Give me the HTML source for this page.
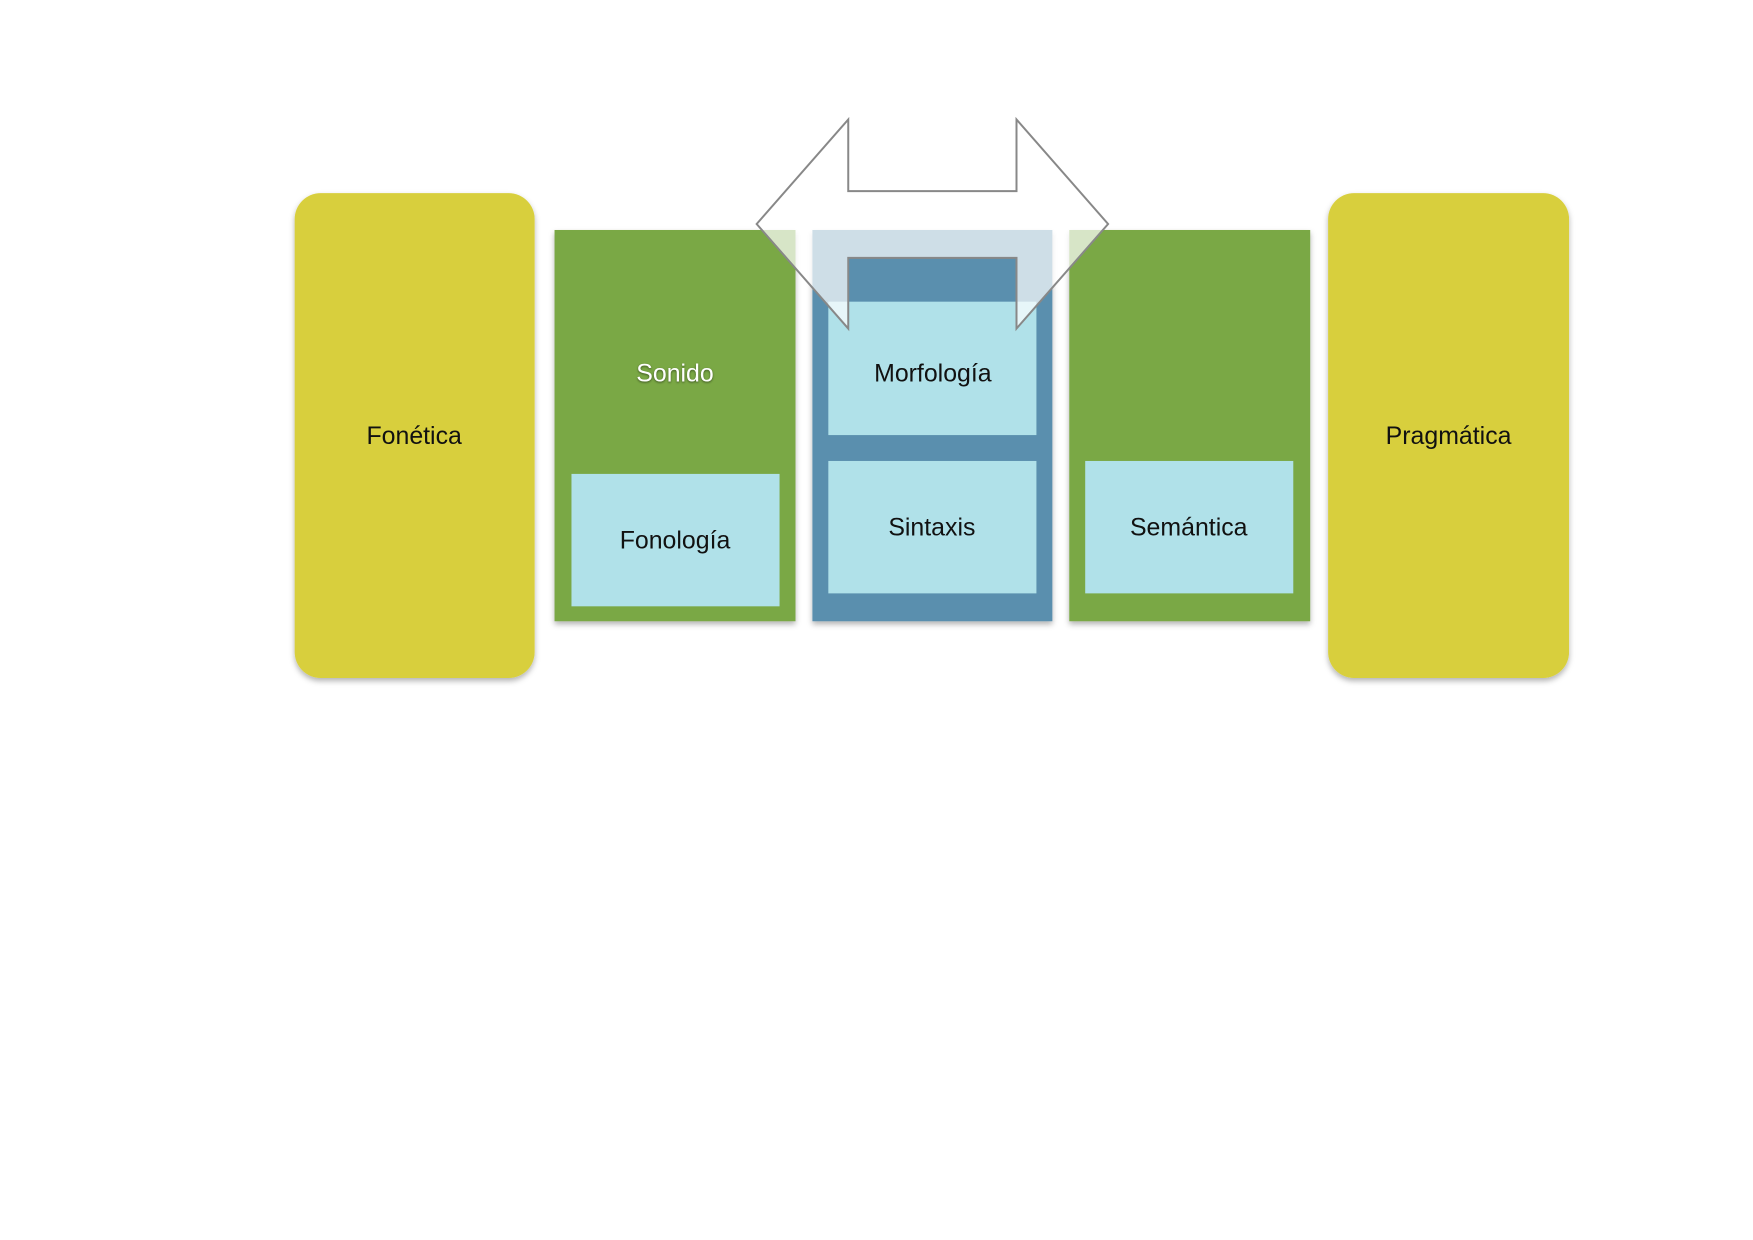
<!DOCTYPE html>
<html><head><meta charset="utf-8"><style>
html,body{margin:0;padding:0;background:#fff;width:1753px;height:1240px;overflow:hidden}
</style></head><body>
<svg width="1753" height="1240" xmlns="http://www.w3.org/2000/svg" font-family="Liberation Sans, sans-serif">
<defs>
<filter id="sh" x="-10%" y="-10%" width="120%" height="120%"><feDropShadow dx="0" dy="3" stdDeviation="3" flood-color="#000" flood-opacity="0.3"/></filter>
</defs>
<g transform="matrix(0.9956 0 0 0.9956 -1 0)">
<rect x="297" y="194" width="241" height="487" rx="26" fill="#d8cf3c" filter="url(#sh)"/>
<rect x="1335" y="194" width="242" height="487" rx="26" fill="#d8cf3c" filter="url(#sh)"/>
<rect x="558" y="231" width="242" height="393" fill="#7aa845" filter="url(#sh)"/>
<rect x="817" y="231" width="241" height="393" fill="#5a8fae" filter="url(#sh)"/>
<rect x="1075" y="231" width="242" height="393" fill="#7aa845" filter="url(#sh)"/>
<rect x="575" y="476" width="209" height="133" fill="#b0e1e9"/>
<rect x="833" y="303" width="209" height="134" fill="#b0e1e9"/>
<rect x="833" y="463" width="209" height="133" fill="#b0e1e9"/>
<rect x="1091" y="463" width="209" height="133" fill="#b0e1e9"/>
<polygon points="761,225 853,120 853,192 1022,192 1022,120 1114,225 1022,330 1022,259 853,259 853,330" fill="rgba(255,255,255,0.7)" stroke="#888" stroke-width="2"/>
<g font-size="25" text-anchor="middle" fill="#111">
<text x="417" y="446">Fonética</text>
<text x="1456" y="446">Pragmática</text>
<text x="679" y="383" fill="#fff" style="text-shadow:0 1px 2px rgba(0,0,0,0.5)">Sonido</text>
<text x="679" y="551">Fonología</text>
<text x="938" y="383">Morfología</text>
<text x="937" y="538">Sintaxis</text>
<text x="1195" y="538">Semántica</text>
</g>
</g>
</svg>
</body></html>
